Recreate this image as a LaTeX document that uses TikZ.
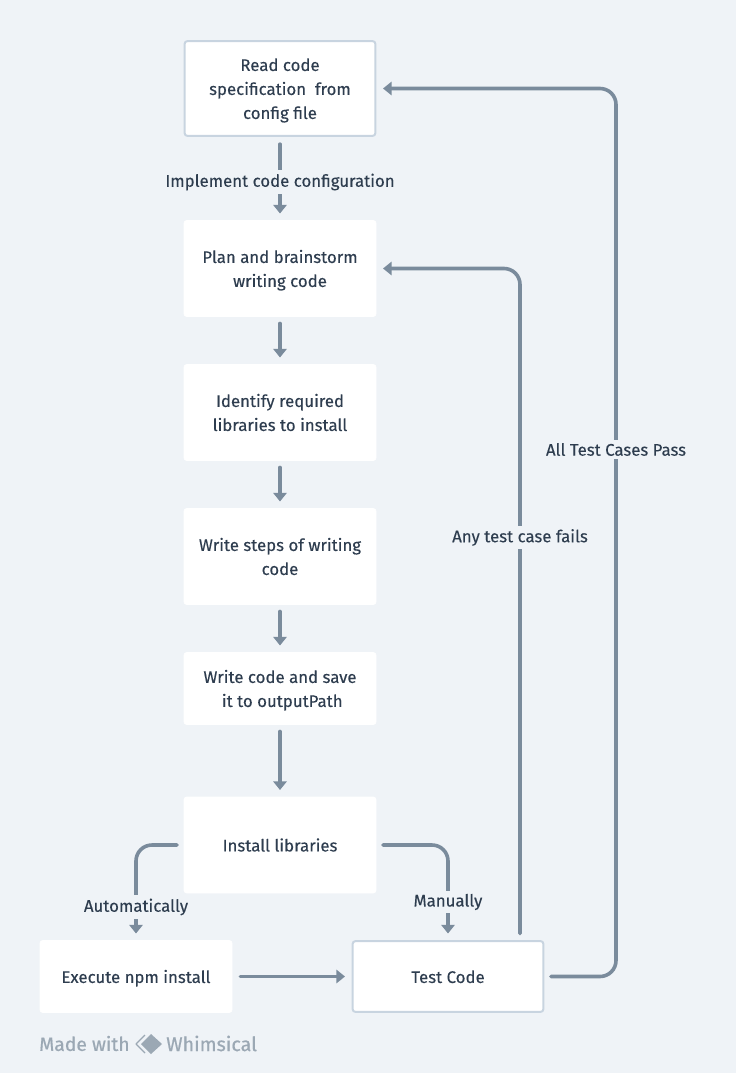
\documentclass[tikz,border=0pt]{standalone}
\usepackage{fontspec}
\setmainfont[FakeBold=0.2]{Fira Sans}
\newfontfamily\brandfont[FakeBold=0.6]{Fira Sans}
\usetikzlibrary{arrows.meta,calc}
\definecolor{bgc}{HTML}{EFF3F7}
\definecolor{linec}{HTML}{7A8B9C}
\definecolor{textc}{HTML}{2E3D4F}
\definecolor{borderc}{HTML}{C8D4E0}
\definecolor{markc}{HTML}{9BA8B4}
\newcommand{\cardtext}[1]{\raisebox{-4.25pt}[0pt][0pt]{\begin{tabular}[c]{@{}c@{}}#1\end{tabular}}}
\tikzset{
  px/.style={x=0.75pt,y=-0.75pt},
  card/.style={rectangle,rounded corners=2pt,fill=white,draw=white,line width=0.5pt,minimum width=144pt,text=textc,font=\fontsize{12.6}{18}\selectfont,inner sep=0pt},
  framed/.style={card,draw=borderc,line width=1.5pt,minimum width=143pt},
  link/.style={draw=linec,line width=2.7pt,line cap=round,rounded corners=12pt,-{Triangle[length=6.5pt,width=10pt]}},
  tag/.style={fill=bgc,text=textc,font=\fontsize{12.6}{15}\selectfont,inner sep=2.5pt},
  brand/.style={text=markc,font=\fontsize{14.5}{17}\brandfont,inner sep=0pt,anchor=west}
}
\begin{document}
\begin{tikzpicture}[px]
\path[use as bounding box,fill=bgc] (0,0) rectangle (736,1073);
\node[framed,minimum height=71pt] (read) at (280,88.5) {\cardtext{Read code\\specification\ \ from\\config file}};
\node[card,minimum height=72pt] (plan) at (280,268.5) {\cardtext{Plan and brainstorm\\writing code}};
\node[card,minimum height=72pt] (identify) at (280,412.5) {\cardtext{Identify required\\libraries to install}};
\node[card,minimum height=72pt] (steps) at (280,556.5) {\cardtext{Write steps of writing\\code}};
\node[card,minimum height=54pt] (write) at (280,688.5) {\cardtext{Write code and save\\\ it to outputPath}};
\node[card,minimum height=72pt] (install) at (280,845) {\cardtext{Install libraries}};
\node[card,minimum height=54pt] (npm) at (136,976.5) {\cardtext{Execute npm install}};
\node[framed,minimum height=53pt] (test) at (448,976.5) {\cardtext{Test Code}};

\coordinate (upP) at ($(test.north)+(72,0)$);

\draw[link,shorten <=5.5pt,shorten >=5pt] (read.south) -- (plan.north);
\draw[link,shorten <=5pt,shorten >=5pt] (plan.south) -- (identify.north);
\draw[link,shorten <=5pt,shorten >=5pt] (identify.south) -- (steps.north);
\draw[link,shorten <=5pt,shorten >=5pt] (steps.south) -- (write.north);
\draw[link,shorten <=5pt,shorten >=5pt] (write.south) -- (install.north);
\draw[link,shorten <=6pt,shorten >=5pt] (npm.east) -- (test.west);

\draw[link,shorten <=5pt,shorten >=5pt] (install.west) -- (136,845) -- (npm.north);
\draw[link,shorten <=5pt,shorten >=5pt] (install.east) -- (448,845) -- (test.north);
\draw[link,shorten <=5pt,shorten >=5pt] (upP) -- (520,268.5) -- (plan.east);
\draw[link,shorten <=5pt,shorten >=5pt] (test.east) -- (616,976.5) -- (616,88.5) -- (read.east);

\node[tag] (impl) at (280,182) {Implement code configuration};
\node[tag] (auto) at (136,907) {Automatically};
\node[tag] (man) at (448,902) {Manually};
\node[tag] (fail) at (520,537.5) {Any test case fails};
\node[tag] (pass) at (616,449.5) {All Test Cases Pass};

\node[brand] (made) at (39,1043.5) {Made with};
\node[brand,font=\fontsize{14.8}{17}\brandfont] (whim) at (166,1043.5) {Whimsical};
\draw[markc,line width=1pt,line join=round] (145,1035) -- (136,1044) -- (145,1053);
\fill[markc] (151,1034) -- (162,1044) -- (151,1054) -- (141,1044) -- cycle;
\end{tikzpicture}
\end{document}
